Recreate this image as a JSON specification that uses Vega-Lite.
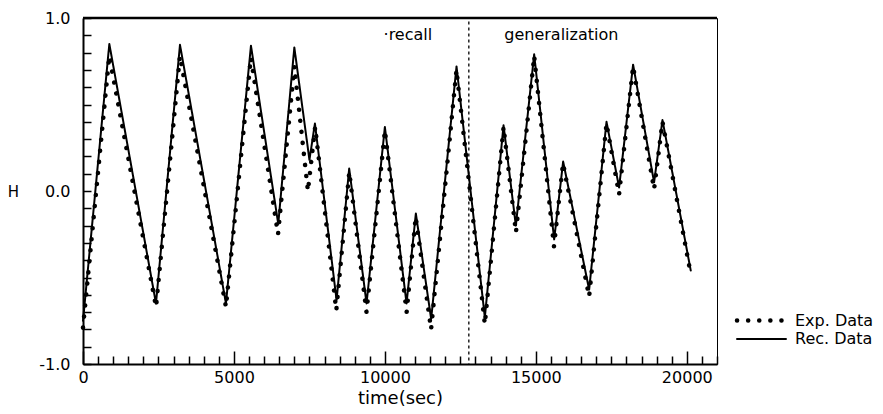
{
  "$schema": "https://vega.github.io/schema/vega-lite/v6.json",
  "width": 634,
  "height": 346,
  "autosize": {"type": "none"},
  "padding": {"left": 83, "top": 18, "right": 166, "bottom": 50},
  "background": "white",
  "config": {
    "view": {"stroke": "black", "strokeWidth": 1},
    "font": "DejaVu Sans",
    "text": {"font": "DejaVu Sans"}
  },
  "datasets": {
    "curves": [
      {"t": 0, "H": -0.75, "s": "Rec. Data"},
      {"t": 872, "H": 0.85, "s": "Rec. Data"},
      {"t": 2417, "H": -0.65, "s": "Rec. Data"},
      {"t": 3212, "H": 0.845, "s": "Rec. Data"},
      {"t": 4735, "H": -0.65, "s": "Rec. Data"},
      {"t": 5563, "H": 0.84, "s": "Rec. Data"},
      {"t": 6467, "H": -0.19, "s": "Rec. Data"},
      {"t": 7000, "H": 0.83, "s": "Rec. Data"},
      {"t": 7500, "H": 0.18, "s": "Rec. Data"},
      {"t": 7682, "H": 0.39, "s": "Rec. Data"},
      {"t": 8399, "H": -0.63, "s": "Rec. Data"},
      {"t": 8817, "H": 0.13, "s": "Rec. Data"},
      {"t": 9392, "H": -0.65, "s": "Rec. Data"},
      {"t": 9999, "H": 0.37, "s": "Rec. Data"},
      {"t": 10717, "H": -0.65, "s": "Rec. Data"},
      {"t": 11025, "H": -0.13, "s": "Rec. Data"},
      {"t": 11532, "H": -0.74, "s": "Rec. Data"},
      {"t": 12372, "H": 0.72, "s": "Rec. Data"},
      {"t": 13310, "H": -0.73, "s": "Rec. Data"},
      {"t": 13930, "H": 0.38, "s": "Rec. Data"},
      {"t": 14337, "H": -0.2, "s": "Rec. Data"},
      {"t": 14944, "H": 0.79, "s": "Rec. Data"},
      {"t": 15606, "H": -0.28, "s": "Rec. Data"},
      {"t": 15904, "H": 0.17, "s": "Rec. Data"},
      {"t": 16765, "H": -0.57, "s": "Rec. Data"},
      {"t": 17340, "H": 0.4, "s": "Rec. Data"},
      {"t": 17757, "H": 0.02, "s": "Rec. Data"},
      {"t": 18221, "H": 0.73, "s": "Rec. Data"},
      {"t": 18916, "H": 0.05, "s": "Rec. Data"},
      {"t": 19194, "H": 0.41, "s": "Rec. Data"},
      {"t": 20131, "H": -0.46, "s": "Rec. Data"},
      {"t": 0, "H": -0.79, "s": "Exp. Data"},
      {"t": 870, "H": 0.78, "s": "Exp. Data"},
      {"t": 2420, "H": -0.67, "s": "Exp. Data"},
      {"t": 3210, "H": 0.78, "s": "Exp. Data"},
      {"t": 4735, "H": -0.67, "s": "Exp. Data"},
      {"t": 5560, "H": 0.77, "s": "Exp. Data"},
      {"t": 6460, "H": -0.25, "s": "Exp. Data"},
      {"t": 7000, "H": 0.72, "s": "Exp. Data"},
      {"t": 7450, "H": 0.0, "s": "Exp. Data"},
      {"t": 7690, "H": 0.37, "s": "Exp. Data"},
      {"t": 8390, "H": -0.69, "s": "Exp. Data"},
      {"t": 8820, "H": 0.11, "s": "Exp. Data"},
      {"t": 9390, "H": -0.7, "s": "Exp. Data"},
      {"t": 10000, "H": 0.35, "s": "Exp. Data"},
      {"t": 10720, "H": -0.7, "s": "Exp. Data"},
      {"t": 11020, "H": -0.15, "s": "Exp. Data"},
      {"t": 11530, "H": -0.8, "s": "Exp. Data"},
      {"t": 12370, "H": 0.7, "s": "Exp. Data"},
      {"t": 13310, "H": -0.77, "s": "Exp. Data"},
      {"t": 13930, "H": 0.37, "s": "Exp. Data"},
      {"t": 14340, "H": -0.24, "s": "Exp. Data"},
      {"t": 14945, "H": 0.78, "s": "Exp. Data"},
      {"t": 15600, "H": -0.32, "s": "Exp. Data"},
      {"t": 15900, "H": 0.16, "s": "Exp. Data"},
      {"t": 16765, "H": -0.61, "s": "Exp. Data"},
      {"t": 17340, "H": 0.39, "s": "Exp. Data"},
      {"t": 17757, "H": -0.02, "s": "Exp. Data"},
      {"t": 18220, "H": 0.72, "s": "Exp. Data"},
      {"t": 18916, "H": 0.01, "s": "Exp. Data"},
      {"t": 19194, "H": 0.4, "s": "Exp. Data"},
      {"t": 20130, "H": -0.48, "s": "Exp. Data"}
    ],
    "notes": [
      {"t": 10761, "H": 0.9, "label": "·recall"},
      {"t": 15843, "H": 0.9, "label": "generalization"}
    ],
    "phase": [{"t": 12780, "H": 0.98, "H2": -1}],
    "frame": [{"t": 0, "t2": 21000, "H": 1}]
  },
  "encoding": {
    "x": {
      "field": "t", "type": "quantitative", "title": "time(sec)",
      "scale": {"domain": [0, 21000], "nice": false, "zero": false},
      "axis": {
        "values": [0,500,1000,1500,2000,2500,3000,3500,4000,4500,5000,5500,6000,6500,7000,7500,8000,8500,9000,9500,10000,10500,11000,11500,12000,12500,13000,13500,14000,14500,15000,15500,16000,16500,17000,17500,18000,18500,19000,19500,20000,20500,21000],
        "tickSize": {"condition": {"test": "datum.value % 5000 === 0", "value": -13}, "value": -8},
        "tickColor": "black", "tickWidth": 1.5,
        "domainColor": "black", "domainWidth": 2,
        "labelExpr": "datum.value % 5000 === 0 ? format(datum.value, 'd') : ''",
        "labelFontSize": 16, "labelColor": "black", "labelPadding": 18,
        "labelFlush": false, "labelOverlap": false, "labelBound": false,
        "grid": false,
        "titleFontSize": 18, "titleFontWeight": "normal", "titleColor": "black", "titlePadding": -1
      }
    },
    "y": {
      "field": "H", "type": "quantitative", "title": "H",
      "scale": {"domain": [-1, 1], "nice": false, "zero": false},
      "axis": {
        "values": [-1,-0.9,-0.8,-0.7,-0.6,-0.5,-0.4,-0.3,-0.2,-0.1,0,0.1,0.2,0.3,0.4,0.5,0.6,0.7,0.8,0.9,1],
        "tickSize": -8, "tickColor": "black", "tickWidth": 1.5,
        "domainColor": "black", "domainWidth": 2,
        "labelExpr": "datum.value == 1 ? '1.0' : (datum.value == 0 ? '0.0' : (datum.value == -1 ? '-1.0' : ''))",
        "labelFontSize": 16, "labelColor": "black", "labelPadding": 21,
        "labelFlush": false, "labelOverlap": false, "labelBound": false, "labelBaseline": "middle",
        "grid": false,
        "titleAngle": 0, "titleX": -70, "titleY": 173, "titleAlign": "center", "titleBaseline": "middle",
        "titleFontSize": 15, "titleFontWeight": "normal", "titleColor": "black"
      }
    }
  },
  "layer": [
    {
      "data": {"name": "curves"},
      "mark": {"type": "line", "color": "black", "strokeCap": "round", "strokeJoin": "round"},
      "encoding": {
        "strokeDash": {
          "field": "s", "type": "nominal",
          "scale": {"domain": ["Exp. Data", "Rec. Data"], "range": [[0.1, 11], [1, 0]]},
          "legend": {
            "orient": "none", "legendX": 670, "legendY": 294, "title": null,
            "symbolType": "M-4,0H4", "symbolSize": 150, "symbolStrokeColor": "black",
            "labelFontSize": 16, "labelColor": "black", "labelOffset": 25,
            "rowPadding": 1, "padding": 0,
            "labelExpr": "replace(datum.label, ' ', '  ')",
            "encode": {"symbols": {"update": {"strokeCap": {"value": "round"}, "fill": {"value": "transparent"}}}}
          }
        },
        "strokeWidth": {
          "field": "s", "type": "nominal",
          "scale": {"domain": ["Exp. Data", "Rec. Data"], "range": [4.5, 2]},
          "legend": null
        }
      }
    },
    {
      "data": {"name": "phase"},
      "mark": {"type": "rule", "color": "black", "strokeDash": [3, 3], "strokeWidth": 1.3},
      "encoding": {"y2": {"field": "H2"}}
    },
    {
      "data": {"name": "frame"},
      "mark": {"type": "rule", "color": "black", "strokeWidth": 2.5},
      "encoding": {"x2": {"field": "t2"}}
    },
    {
      "data": {"name": "notes"},
      "mark": {"type": "text", "fontSize": 16, "color": "black", "align": "center", "baseline": "middle"},
      "encoding": {
        "text": {"field": "label"}
      }
    }
  ]
}
